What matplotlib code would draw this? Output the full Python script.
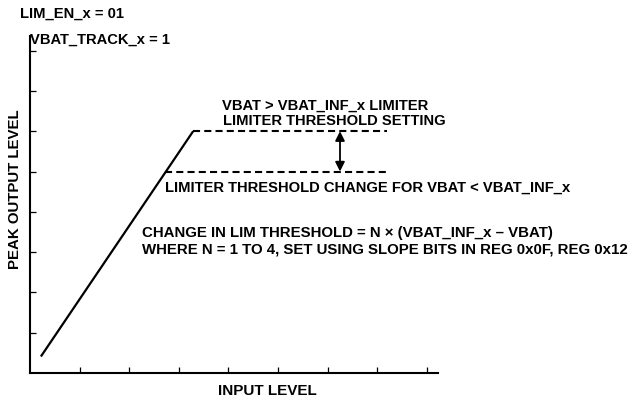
import matplotlib
matplotlib.use("Agg")
import matplotlib.pyplot as plt

plt.rcParams['font.family'] = ['Liberation Sans', 'DejaVu Sans']

# Data (arbitrary level units)
x_ticks = [1, 2, 3, 4, 5, 6, 7, 8]
y_ticks = [1, 2, 3, 4, 5, 6, 7, 8]
ramp_x = [0.22, 3.29]
ramp_y = [0.41, 6.0]
upper_x = [3.29, 7.2]
upper_y = [6.0, 6.0]
lower_x = [2.72, 7.2]
lower_y = [5.0, 5.0]
arrow_x = 6.25

W, H = 633, 401
fig = plt.figure(figsize=(W / 100, H / 100), dpi=100)
L, R, T, B = 30, 438, 36, 373
ax = fig.add_axes([L / W, 1 - B / H, (R - L) / W, (B - T) / H])
ax.set_xlim(0, (R - L) / 49.6)
ax.set_ylim(0, (B - T) / 40.3)

for s in ['top', 'right']:
    ax.spines[s].set_visible(False)
for s in ['left', 'bottom']:
    ax.spines[s].set_linewidth(1.5)
ax.set_xticks(x_ticks)
ax.set_yticks(y_ticks)
ax.set_xticklabels([])
ax.set_yticklabels([])
ax.tick_params(direction='in', length=4.5, width=0.9)

ax.plot(ramp_x, ramp_y, color='black', lw=1.6, solid_capstyle='butt')
ax.plot(upper_x, upper_y, color='black', lw=1.5, dashes=(3.4, 2.0))
ax.plot(lower_x, lower_y, color='black', lw=1.5, dashes=(3.4, 2.0))
ax.annotate('', xy=(arrow_x, upper_y[0]), xytext=(arrow_x, lower_y[0]),
            arrowprops=dict(arrowstyle='<|-|>', color='black', lw=1.3,
                            mutation_scale=14, shrinkA=0, shrinkB=0))

FS = 10.6

def ftext(x, y, s, fs=FS, **kw):
    fig.text(x / W, 1 - y / H, s, fontweight='bold', fontsize=fs, va='center', **kw)

ftext(20, 14, 'LIM_EN_x = 01')
ftext(30, 40, 'VBAT_TRACK_x = 1')
ftext(222, 106, 'VBAT > VBAT_INF_x LIMITER')
ftext(223, 121, 'LIMITER THRESHOLD SETTING')
ftext(165, 188, 'LIMITER THRESHOLD CHANGE FOR VBAT < VBAT_INF_x')
ftext(142, 233, 'CHANGE IN LIM THRESHOLD = N × (VBAT_INF_x – VBAT)', fs=10.8)
ftext(142, 250, 'WHERE N = 1 TO 4, SET USING SLOPE BITS IN REG 0x0F, REG 0x12', fs=10.8)
ftext(267, 391, 'INPUT LEVEL', fs=11, ha='center')
fig.text(15 / W, 1 - 189 / H, 'PEAK OUTPUT LEVEL', fontweight='bold', fontsize=10.8,
         rotation=90, ha='center', va='center')

fig.savefig('out.png', dpi=100)
